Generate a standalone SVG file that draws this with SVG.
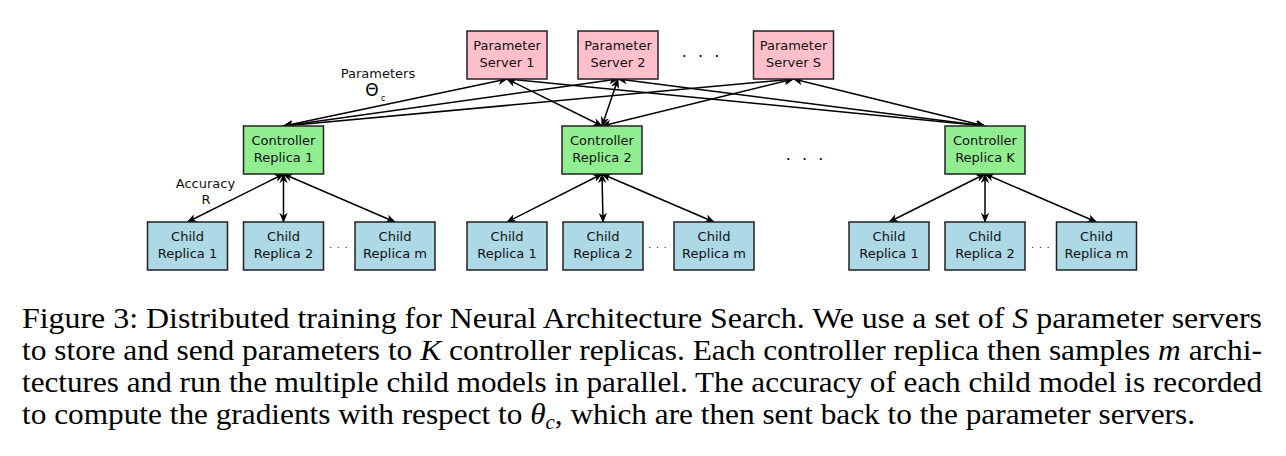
<svg xmlns="http://www.w3.org/2000/svg" width="1286" height="456" viewBox="0 0 1286 456">
<style>
.box{stroke:#222;stroke-width:1.5}
.ps{fill:#ffc0cb}
.ctl{fill:#90ee90}
.ch{fill:#add8e6}
.t{font-family:"DejaVu Sans",sans-serif;font-size:13px;fill:#111;text-anchor:middle}
.e{stroke:#000;stroke-width:1.5;fill:none;marker-start:url(#ah);marker-end:url(#ah)}
.cap{font-family:"Liberation Serif","Times New Roman",serif;font-size:30px;fill:#000}
.it{font-style:italic}
</style>
<defs>
<marker id="ah" viewBox="0 0 12 10" refX="11" refY="5" markerWidth="10" markerHeight="8.5" markerUnits="userSpaceOnUse" orient="auto-start-reverse">
<path d="M0,0 L12,5 L0,10 L3.5,5 z" fill="#000"/>
</marker>
</defs>
<rect width="1286" height="456" fill="#fff"/>
<g id="connectors">
<line class="e" x1="283.5" y1="126" x2="507" y2="79"/>
<line class="e" x1="283.5" y1="126" x2="618" y2="79"/>
<line class="e" x1="283.5" y1="126" x2="793.5" y2="79"/>
<line class="e" x1="602" y1="126" x2="507" y2="79"/>
<line class="e" x1="602" y1="126" x2="618" y2="79"/>
<line class="e" x1="602" y1="126" x2="793.5" y2="79"/>
<line class="e" x1="985" y1="126" x2="507" y2="79"/>
<line class="e" x1="985" y1="126" x2="618" y2="79"/>
<line class="e" x1="985" y1="126" x2="793.5" y2="79"/>
<line class="e" x1="283.5" y1="174" x2="187.5" y2="222"/>
<line class="e" x1="283.5" y1="174" x2="283.5" y2="222"/>
<line class="e" x1="283.5" y1="174" x2="395" y2="222"/>
<line class="e" x1="602" y1="174" x2="507" y2="222"/>
<line class="e" x1="602" y1="174" x2="603" y2="222"/>
<line class="e" x1="602" y1="174" x2="714" y2="222"/>
<line class="e" x1="985" y1="174" x2="889" y2="222"/>
<line class="e" x1="985" y1="174" x2="985" y2="222"/>
<line class="e" x1="985" y1="174" x2="1096.5" y2="222"/>
</g>
<g id="ps1"><rect class="box ps" x="467" y="31" width="80" height="48"/><text class="t" x="507" y="50">Parameter</text><text class="t" x="507" y="67">Server 1</text></g>
<g id="ps2"><rect class="box ps" x="578" y="31" width="80" height="48"/><text class="t" x="618" y="50">Parameter</text><text class="t" x="618" y="67">Server 2</text></g>
<g id="psS"><rect class="box ps" x="753.5" y="31" width="80" height="48"/><text class="t" x="793.5" y="50">Parameter</text><text class="t" x="793.5" y="67">Server S</text></g>
<g id="ctl1"><rect class="box ctl" x="243.5" y="126" width="80" height="48"/><text class="t" x="283.5" y="145">Controller</text><text class="t" x="283.5" y="162">Replica 1</text></g>
<g id="ctl2"><rect class="box ctl" x="562" y="126" width="80" height="48"/><text class="t" x="602" y="145">Controller</text><text class="t" x="602" y="162">Replica 2</text></g>
<g id="ctlK"><rect class="box ctl" x="945" y="126" width="80" height="48"/><text class="t" x="985" y="145">Controller</text><text class="t" x="985" y="162">Replica K</text></g>
<g id="c1_1"><rect class="box ch" x="147.5" y="222" width="80" height="48"/><text class="t" x="187.5" y="241">Child</text><text class="t" x="187.5" y="258">Replica 1</text></g>
<g id="c1_2"><rect class="box ch" x="243.5" y="222" width="80" height="48"/><text class="t" x="283.5" y="241">Child</text><text class="t" x="283.5" y="258">Replica 2</text></g>
<g id="c1_m"><rect class="box ch" x="355" y="222" width="80" height="48"/><text class="t" x="395" y="241">Child</text><text class="t" x="395" y="258">Replica m</text></g>
<g id="c2_1"><rect class="box ch" x="467" y="222" width="80" height="48"/><text class="t" x="507" y="241">Child</text><text class="t" x="507" y="258">Replica 1</text></g>
<g id="c2_2"><rect class="box ch" x="563" y="222" width="80" height="48"/><text class="t" x="603" y="241">Child</text><text class="t" x="603" y="258">Replica 2</text></g>
<g id="c2_m"><rect class="box ch" x="674" y="222" width="80" height="48"/><text class="t" x="714" y="241">Child</text><text class="t" x="714" y="258">Replica m</text></g>
<g id="c3_1"><rect class="box ch" x="849" y="222" width="80" height="48"/><text class="t" x="889" y="241">Child</text><text class="t" x="889" y="258">Replica 1</text></g>
<g id="c3_2"><rect class="box ch" x="945" y="222" width="80" height="48"/><text class="t" x="985" y="241">Child</text><text class="t" x="985" y="258">Replica 2</text></g>
<g id="c3_m"><rect class="box ch" x="1056.5" y="222" width="80" height="48"/><text class="t" x="1096.5" y="241">Child</text><text class="t" x="1096.5" y="258">Replica m</text></g>
<g id="labels">
<text class="t" x="378" y="78">Parameters</text>
<text x="372" y="96" style="font-family:'DejaVu Sans',sans-serif;font-size:17px;text-anchor:middle">Θ</text>
<text x="381" y="101" style="font-family:'DejaVu Sans',sans-serif;font-size:8px">c</text>
<text class="t" x="205.5" y="188">Accuracy</text>
<text class="t" x="206" y="204">R</text>
<text x="702" y="57" style="font-family:'DejaVu Sans',sans-serif;font-size:16px;text-anchor:middle;letter-spacing:3px">. . .</text>
<text x="806" y="160" style="font-family:'DejaVu Sans',sans-serif;font-size:16px;text-anchor:middle;letter-spacing:3px">. . .</text>
<text x="339" y="248" style="font-family:'DejaVu Sans',sans-serif;font-size:9px;text-anchor:middle;letter-spacing:1px">. . .</text>
<text x="658" y="248" style="font-family:'DejaVu Sans',sans-serif;font-size:9px;text-anchor:middle;letter-spacing:1px">. . .</text>
<text x="1041" y="248" style="font-family:'DejaVu Sans',sans-serif;font-size:9px;text-anchor:middle;letter-spacing:1px">. . .</text>
</g>
<g id="caption">
<text class="cap" x="22" y="328" textLength="1240" lengthAdjust="spacingAndGlyphs">Figure 3: Distributed training for Neural Architecture Search. We use a set of <tspan class="it">S</tspan> parameter servers</text>
<text class="cap" x="22" y="360" textLength="1240" lengthAdjust="spacingAndGlyphs">to store and send parameters to <tspan class="it">K</tspan> controller replicas. Each controller replica then samples <tspan class="it">m</tspan> archi-</text>
<text class="cap" x="22" y="392" textLength="1240" lengthAdjust="spacingAndGlyphs">tectures and run the multiple child models in parallel. The accuracy of each child model is recorded</text>
<text class="cap" x="22" y="424" textLength="1173" lengthAdjust="spacingAndGlyphs">to compute the gradients with respect to <tspan class="it">θ</tspan><tspan class="it" font-size="20" dy="5">c</tspan><tspan dy="-5">, which are then sent back to the parameter servers.</tspan></text>
</g>
</svg>
